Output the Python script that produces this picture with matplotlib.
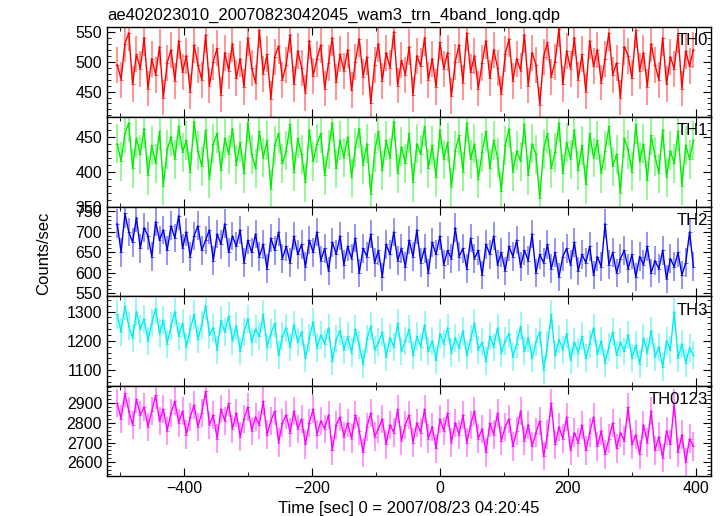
import numpy as np
import matplotlib
matplotlib.use("Agg")
import matplotlib.pyplot as plt
from matplotlib.ticker import MultipleLocator, AutoMinorLocator

plt.rcParams['font.family'] = ['Liberation Sans', 'DejaVu Sans']

# time bins: 6 s steps from -504 s to 396 s
t_start, t_step = -504, 6

th0 = [495, 470, 530, 548, 462, 512, 488, 540, 455, 505, 478, 525, 440, 498, 520,
       468, 535, 482, 510, 450, 528, 495, 470, 545, 460, 500, 522, 445, 515, 485,
       530, 472, 505, 458, 540, 490, 465, 552, 480, 512, 438, 508, 526, 470, 495,
       545, 462, 518, 490, 448, 535, 476, 505, 528, 455, 498, 540, 466, 512, 485,
       520, 452, 500, 538, 475, 508, 430, 495, 530, 468, 515, 490, 550, 460, 502,
       478, 525, 445, 510, 492, 540, 470, 505, 458, 532, 488, 515, 442, 500, 528,
       465, 548, 482, 510, 455, 498, 535, 472, 520, 490, 446, 512, 538, 468, 505,
       485, 545, 460, 515, 495, 428, 508, 532, 475, 500, 555, 462, 518, 488, 540,
       470, 512, 450, 535, 492, 520, 465, 505, 548, 478, 498, 440, 525, 510, 472,
       552, 485, 515, 458, 530, 495, 470, 540, 462, 508, 488, 545, 455, 518, 492,
       520]

th1 = [440, 415, 455, 470, 405, 448, 425, 462, 395, 438, 412, 458, 380, 432, 450,
       418, 465, 428, 445, 400, 472, 430, 408, 460, 390, 440, 455, 402, 448, 425,
       462, 410, 442, 398, 470, 425, 405, 458, 420, 445, 375, 438, 455, 412, 430,
       468, 400, 448, 425, 385, 460, 415, 440, 455, 395, 432, 470, 405, 445, 420,
       450, 392, 435, 462, 410, 440, 368, 428, 458, 402, 445, 420, 472, 398, 436,
       412, 455, 385, 440, 425, 465, 405, 438, 392, 460, 418, 442, 378, 430, 452,
       400, 470, 418, 440, 390, 428, 458, 405, 445, 420, 372, 438, 462, 400, 430,
       415, 468, 395, 440, 425, 362, 432, 455, 405, 428, 470, 398, 442, 418, 460,
       402, 438, 382, 455, 420, 445, 398, 430, 465, 408, 425, 370, 448, 432, 400,
       468, 415, 440, 388, 452, 422, 398, 460, 392, 430, 412, 458, 380, 438, 418,
       445]

th2 = [720, 650, 745, 700, 675, 735, 660, 710, 690, 640, 725, 680, 705, 655, 715,
       685, 740, 660, 700, 640, 690, 715, 655, 680, 705, 630, 695, 670, 720, 650,
       690, 665, 705, 625, 680, 650, 695, 640, 670, 610, 685, 655, 700, 635, 665,
       625, 690, 645, 670, 615, 680, 650, 700, 630, 660, 605, 675, 645, 690, 620,
       665, 635, 685, 600, 660, 640, 695, 625, 655, 590, 670, 645, 700, 630, 660,
       615, 680, 640, 705, 625, 660, 600, 675, 645, 690, 620, 655, 635, 710, 640,
       660, 610, 685, 635, 655, 595, 670, 645, 690, 620, 650, 605, 665, 640, 680,
       615, 655, 630, 695, 600, 645, 625, 670, 610, 650, 590, 640, 660, 620, 675,
       605, 645, 625, 665, 595, 640, 615, 720, 620, 650, 600, 635, 655, 610, 645,
       590, 640, 620, 665, 600, 630, 610, 655, 585, 635, 615, 650, 595, 625, 700,
       615]

th3 = [1290, 1230, 1320, 1250, 1210, 1300, 1240, 1275, 1200, 1260, 1310, 1225, 1270, 1190, 1250,
       1300, 1215, 1260, 1180, 1240, 1290, 1205, 1255, 1320, 1220, 1245, 1170, 1270, 1230, 1285,
       1200, 1250, 1165, 1230, 1275, 1195, 1240, 1215, 1290, 1180, 1225, 1260, 1150, 1215, 1245,
       1180, 1255, 1195, 1230, 1140, 1210, 1265, 1175, 1220, 1190, 1245, 1130, 1205, 1235, 1170,
       1215, 1160, 1240, 1185, 1120, 1205, 1250, 1170, 1195, 1230, 1145, 1210, 1180, 1260, 1165,
       1200, 1240, 1150, 1215, 1180, 1255, 1165, 1200, 1135, 1225, 1190, 1245, 1160, 1210, 1175,
       1235, 1150, 1205, 1260, 1170, 1195, 1130, 1215, 1180, 1245, 1160, 1200, 1225, 1145, 1190,
       1250, 1165, 1210, 1140, 1195, 1230, 1100, 1185, 1290, 1150, 1205, 1170, 1225, 1135, 1195,
       1160, 1215, 1140, 1190, 1245, 1155, 1200, 1125, 1180, 1230, 1150, 1195, 1165, 1220, 1140,
       1185, 1120, 1210, 1160, 1235, 1145, 1180, 1110, 1200, 1170, 1300, 1140, 1190, 1125, 1175,
       1150]

th0123 = [2900, 2820, 2950, 2860, 2790, 2920, 2840, 2880, 2780, 2860, 2940, 2810, 2870, 2760, 2850,
          2910, 2800, 2860, 2740, 2830, 2890, 2780, 2850, 2960, 2790, 2840, 2720, 2870, 2810, 2900,
          2770, 2850, 2730, 2820, 2880, 2760, 2830, 2790, 2910, 2740, 2810, 2860, 2700, 2800, 2840,
          2750, 2860, 2770, 2820, 2690, 2800, 2870, 2740, 2810, 2770, 2840, 2660, 2790, 2830, 2730,
          2800, 2720, 2840, 2760, 2650, 2780, 2850, 2730, 2770, 2820, 2690, 2790, 2750, 2870, 2710,
          2790, 2840, 2700, 2800, 2750, 2870, 2720, 2780, 2670, 2820, 2760, 2850, 2700, 2800, 2740,
          2840, 2700, 2790, 2860, 2720, 2770, 2650, 2800, 2740, 2850, 2710, 2780, 2820, 2680, 2760,
          2860, 2710, 2790, 2680, 2750, 2810, 2630, 2740, 2900, 2690, 2780, 2720, 2830, 2660, 2750,
          2700, 2790, 2660, 2750, 2830, 2680, 2760, 2640, 2720, 2800, 2670, 2750, 2710, 2880, 2690,
          2740, 2640, 2790, 2700, 2860, 2660, 2730, 2620, 2760, 2690, 2900, 2650, 2740, 2600, 2720,
          2680]

# typical 1-sigma error per band (counts/sec)
errs = [30, 28, 35, 48, 72]

names = ["TH0", "TH1", "TH2", "TH3", "TH0123"]
series = [th0, th1, th2, th3, th0123]
colors = ["#ff0000", "#00ee00", "#0000ee", "#00eeee", "#ff00ff"]
ylims = [(408, 558), (350, 479), (543, 762), (1045, 1352), (2530, 2986)]
ymajor = [50, 50, 50, 100, 100]

fig, axes = plt.subplots(5, 1, sharex=True, figsize=(7.23, 5.16), dpi=100)
fig.subplots_adjust(left=0.148, right=0.983, top=0.948, bottom=0.0775, hspace=0)

for ax, name, vals, err, col, yl, ym in zip(axes, names, series, errs, colors, ylims, ymajor):
    t = t_start + t_step * np.arange(len(vals))
    ax.errorbar(t, vals, yerr=err, fmt='none', ecolor=col, alpha=0.45, elinewidth=1.3)
    ax.errorbar(t, vals, xerr=t_step / 2, fmt='none', ecolor=col, alpha=0.6, elinewidth=0.8)
    ax.plot(t, vals, color=col, lw=1.0)
    ax.set_ylim(*yl)
    ax.set_xlim(-520, 423)
    ax.yaxis.set_major_locator(MultipleLocator(ym))
    ax.yaxis.set_minor_locator(AutoMinorLocator(5))
    ax.xaxis.set_major_locator(MultipleLocator(200))
    ax.xaxis.set_minor_locator(MultipleLocator(100))
    ax.tick_params(which='both', direction='in', top=True, right=True, labelsize=11.5)
    ax.tick_params(which='major', length=6)
    ax.tick_params(which='minor', length=3)
    ax.text(0.995, 0.93, name, transform=ax.transAxes, ha='right', va='top', fontsize=12)
    for sp in ax.spines.values():
        sp.set_linewidth(1.0)

axes[0].set_title("ae402023010_20070823042045_wam3_trn_4band_long.qdp",
                  loc='left', fontsize=12, pad=5)
axes[-1].set_xlabel("Time [sec] 0 = 2007/08/23 04:20:45", fontsize=12)
fig.text(0.06, 0.51, "Counts/sec", rotation=90, ha='center', va='center', fontsize=12)

fig.savefig("out.png", dpi=100)
